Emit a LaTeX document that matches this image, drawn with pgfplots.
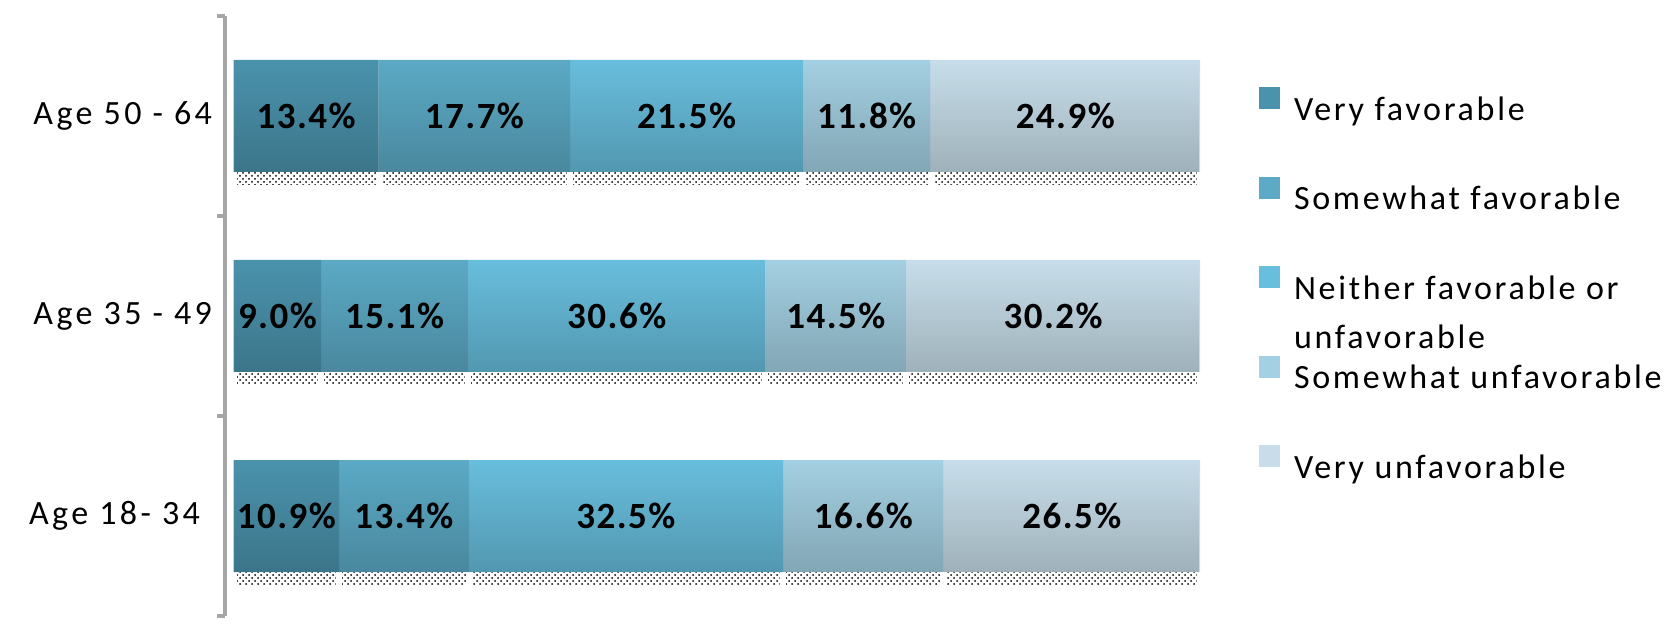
\documentclass[border=0pt]{standalone}
\usepackage{pgfplots}
\pgfplotsset{compat=1.18}
\usepackage{pgfplotstable}
\usepackage{fontspec}
\setmainfont{Carlito}
\newfontfamily\labfont{Carlito}[LetterSpace=10]
\newfontfamily\legfont{Carlito}[LetterSpace=8]
\newfontfamily\datfont{Carlito}[LetterSpace=4]
\usetikzlibrary{patterns,fadings}
\tikzfading[name=darkbottom, top color=transparent!100, bottom color=transparent!0]

\definecolor{vfc}{HTML}{4B93AD}
\definecolor{sfc}{HTML}{5CAAC6}
\definecolor{nfc}{HTML}{68BEDD}
\definecolor{suc}{HTML}{A3D0E2}
\definecolor{vuc}{HTML}{C7DEEA}
\definecolor{axgray}{HTML}{A6A6A6}

\pgfplotstableread{
y vf sf nf su vu
0 10.9 13.4 32.5 16.6 26.5
1 9.0 15.1 30.6 14.5 30.2
2 13.4 17.7 21.5 11.8 24.9
}\data

\newcommand{\tot}{(\thisrow{vf}+\thisrow{sf}+\thisrow{nf}+\thisrow{su}+\thisrow{vu})}
\pgfplotsset{geom/.style={at={(112.5pt,8pt)}, anchor=south west, scale only axis,
  width=487.5pt, height=300pt, xmin=-0.9, xmax=100, ymin=-0.5, ymax=2.5},
  lab/.style={only marks, mark=*, mark size=0pt, mark options={draw=none, fill=none},
  point meta=explicit,
  nodes near coords={\pgfmathprintnumber[fixed,fixed zerofill,precision=1]{\pgfplotspointmeta}\%},
  every node near coord/.append style={anchor=center, font=\datfont\bfseries\fontsize{18.5}{20}\selectfont, text=black}},
  grad/.style={xbar, bar width=56pt, draw=none, fill=black, fill opacity=0.2, path fading=darkbottom, point meta=none},
  shad/.style={pattern=crosshatch dots, pattern color=black, draw=white, line width=3pt}}

\begin{document}
\begin{tikzpicture}
\useasboundingbox (0,0) rectangle (840pt,316pt);
% shadows
\begin{axis}[geom, hide axis, xbar stacked, bar width=56pt, bar shift=-8pt]
\addplot[shad] table[y=y, x expr=\thisrow{vf}*100/\tot]{\data};
\addplot[shad] table[y=y, x expr=\thisrow{sf}*100/\tot]{\data};
\addplot[shad] table[y=y, x expr=\thisrow{nf}*100/\tot]{\data};
\addplot[shad] table[y=y, x expr=\thisrow{su}*100/\tot]{\data};
\addplot[shad] table[y=y, x expr=\thisrow{vu}*100/\tot]{\data};
\end{axis}
% main bars
\begin{axis}[geom,
  xbar stacked, bar width=56pt,
  axis x line=none,
  axis y line*=left,
  y axis line style={-, draw=axgray, line width=2pt},
  ytick={0,1,2},
  yticklabels={Age 18- 34\kern6pt, Age 35 - 49, Age 50 - 64},
  major tick length=0pt,
  minor ytick={-0.5,0.5,1.5,2.5},
  minor tick length=4pt,
  tick align=outside,
  every minor tick/.append style={draw=axgray, line width=2pt},
  yticklabel style={font=\labfont\fontsize{17}{20}\selectfont, xshift=-3pt},
  legend image code/.code={\path[#1, draw=none] (0pt,1.5pt) rectangle (10.5pt,12.5pt);},
  legend style={at={(1.0605,0.881)}, anchor=north west, draw=none, fill=none, inner sep=0pt, outer sep=0pt,
    font=\legfont\fontsize{17}{20}\selectfont, row sep=24.2pt,
    nodes={inner ysep=0pt, inner xsep=7pt, text height=12pt, text depth=4pt}},
  legend cell align=left,
]
\addplot[fill=vfc, draw=none] table[y=y, x expr=\thisrow{vf}*100/\tot]{\data};
\addlegendentry{Very favorable}
\addplot[fill=sfc, draw=none] table[y=y, x expr=\thisrow{sf}*100/\tot]{\data};
\addlegendentry{Somewhat favorable}
\addplot[fill=nfc, draw=none] table[y=y, x expr=\thisrow{nf}*100/\tot]{\data};
\addlegendentry{\begin{tabular}[t]{@{}l@{}}Neither favorable or\\[4.5pt]unfavorable\end{tabular}}
\addplot[fill=suc, draw=none] table[y=y, x expr=\thisrow{su}*100/\tot]{\data};
\addlegendentry{Somewhat unfavorable}
\addplot[fill=vuc, draw=none] table[y=y, x expr=\thisrow{vu}*100/\tot]{\data};
\addlegendentry{Very unfavorable}
\end{axis}
% gradient overlay and value labels
\begin{axis}[geom, hide axis, /pgf/number format/assume math mode=true]
\addplot[grad] coordinates {(100,0)};
\addplot[grad] coordinates {(100,1)};
\addplot[grad] coordinates {(100,2)};
\addplot[lab] table[y=y, x expr=0.5*\thisrow{vf}*100/\tot, meta=vf]{\data};
\addplot[lab] table[y=y, x expr=(\thisrow{vf}+0.5*\thisrow{sf})*100/\tot, meta=sf]{\data};
\addplot[lab] table[y=y, x expr=(\thisrow{vf}+\thisrow{sf}+0.5*\thisrow{nf})*100/\tot, meta=nf]{\data};
\addplot[lab] table[y=y, x expr=(\thisrow{vf}+\thisrow{sf}+\thisrow{nf}+0.5*\thisrow{su})*100/\tot, meta=su]{\data};
\addplot[lab] table[y=y, x expr=(\thisrow{vf}+\thisrow{sf}+\thisrow{nf}+\thisrow{su}+0.5*\thisrow{vu})*100/\tot, meta=vu]{\data};
\end{axis}
\end{tikzpicture}
\end{document}
